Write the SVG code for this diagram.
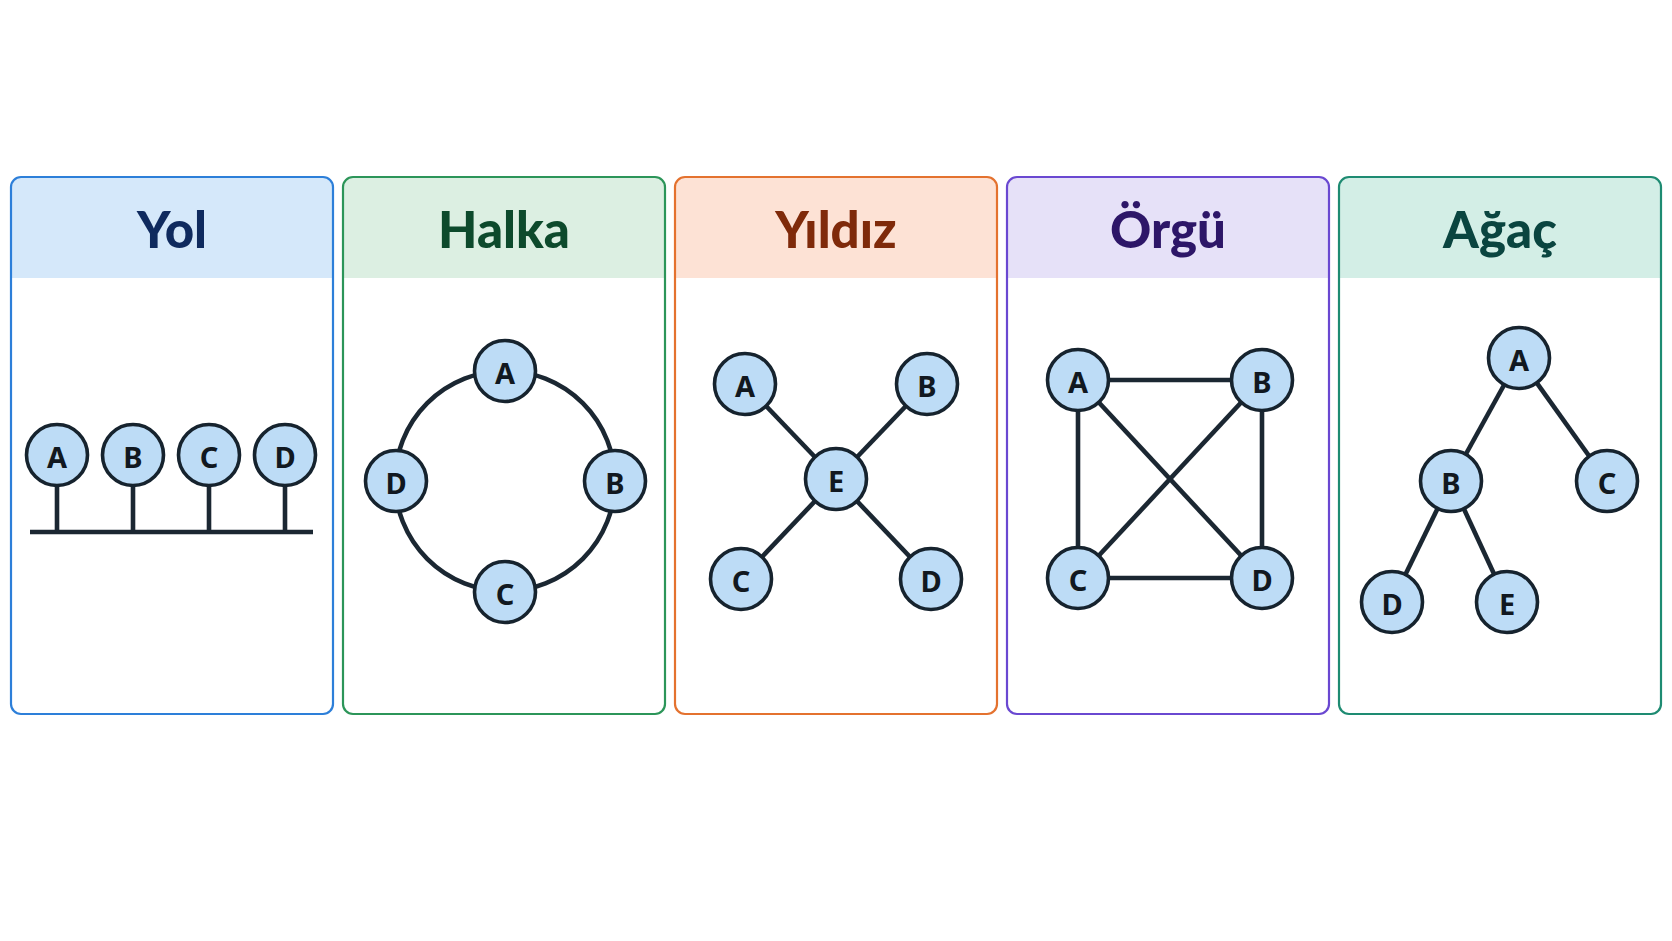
<svg xmlns="http://www.w3.org/2000/svg" width="1672" height="941" viewBox="0 0 1672 941">
<defs>
<style>
.card{fill:#ffffff}
.border{fill:none;stroke-width:2.2}
.title{font-family:Lato,"Noto Sans",sans-serif;font-weight:900;font-size:51px;text-anchor:middle}
.node circle{fill:#bddcf6;stroke:#16232e;stroke-width:3.6}
.node text{font-family:"Noto Sans","Liberation Sans",sans-serif;font-weight:700;font-size:29px;fill:#111820;text-anchor:middle;dominant-baseline:central}
.edge{stroke:#1b2732;stroke-width:4.6;fill:none;stroke-linecap:butt}
</style>
</defs>
<rect width="1672" height="941" fill="#ffffff"/>

<!-- Panels -->
<g id="panel-yol">
<rect class="card" x="11" y="177" width="322" height="537" rx="10"/>
<path d="M11 278 V187 A10 10 0 0 1 21 177 H323 A10 10 0 0 1 333 187 V278 Z" fill="#d5e8fa"/>
<rect class="border" x="11" y="177" width="322" height="537" rx="10" stroke="#2d7fd9"/>
<text class="title" x="172" y="248" fill="#0f2a5e">Yol</text>
</g>
<g id="panel-halka">
<rect class="card" x="343" y="177" width="322" height="537" rx="10"/>
<path d="M343 278 V187 A10 10 0 0 1 353 177 H655 A10 10 0 0 1 665 187 V278 Z" fill="#dcefe2"/>
<rect class="border" x="343" y="177" width="322" height="537" rx="10" stroke="#2c9559"/>
<text class="title" x="504" y="248" fill="#0d4a2c">Halka</text>
</g>
<g id="panel-yildiz">
<rect class="card" x="675" y="177" width="322" height="537" rx="10"/>
<path d="M675 278 V187 A10 10 0 0 1 685 177 H987 A10 10 0 0 1 997 187 V278 Z" fill="#fde2d5"/>
<rect class="border" x="675" y="177" width="322" height="537" rx="10" stroke="#e4722f"/>
<text class="title" x="836" y="248" fill="#7f2a0a">Yıldız</text>
</g>
<g id="panel-orgu">
<rect class="card" x="1007" y="177" width="322" height="537" rx="10"/>
<path d="M1007 278 V187 A10 10 0 0 1 1017 177 H1319 A10 10 0 0 1 1329 187 V278 Z" fill="#e6e1f8"/>
<rect class="border" x="1007" y="177" width="322" height="537" rx="10" stroke="#6a48d1"/>
<text class="title" x="1168" y="248" fill="#2d1668">Örgü</text>
</g>
<g id="panel-agac">
<rect class="card" x="1339" y="177" width="322" height="537" rx="10"/>
<path d="M1339 278 V187 A10 10 0 0 1 1349 177 H1651 A10 10 0 0 1 1661 187 V278 Z" fill="#d3eee6"/>
<rect class="border" x="1339" y="177" width="322" height="537" rx="10" stroke="#1e8b72"/>
<text class="title" x="1500" y="248" fill="#0a4540">Ağaç</text>
</g>

<!-- Connectors -->
<g id="connectors">
<!-- Yol -->
<line class="edge" x1="30" y1="532" x2="313" y2="532" stroke-linecap="round"/>
<line class="edge" x1="57" y1="455" x2="57" y2="532"/>
<line class="edge" x1="133" y1="455" x2="133" y2="532"/>
<line class="edge" x1="209" y1="455" x2="209" y2="532"/>
<line class="edge" x1="285" y1="455" x2="285" y2="532"/>
<!-- Halka -->
<circle class="edge" cx="505" cy="481" r="110"/>
<!-- Yildiz -->
<line class="edge" x1="745" y1="384" x2="836" y2="479"/>
<line class="edge" x1="927" y1="384" x2="836" y2="479"/>
<line class="edge" x1="741" y1="579" x2="836" y2="479"/>
<line class="edge" x1="931" y1="579" x2="836" y2="479"/>
<!-- Orgu -->
<line class="edge" x1="1078" y1="380" x2="1262" y2="380"/>
<line class="edge" x1="1078" y1="578" x2="1262" y2="578"/>
<line class="edge" x1="1078" y1="380" x2="1078" y2="578"/>
<line class="edge" x1="1262" y1="380" x2="1262" y2="578"/>
<line class="edge" x1="1078" y1="380" x2="1262" y2="578"/>
<line class="edge" x1="1262" y1="380" x2="1078" y2="578"/>
<!-- Agac -->
<line class="edge" x1="1519" y1="358" x2="1451" y2="481"/>
<line class="edge" x1="1519" y1="358" x2="1607" y2="481"/>
<line class="edge" x1="1451" y1="481" x2="1392" y2="602"/>
<line class="edge" x1="1451" y1="481" x2="1507" y2="602"/>
</g>

<!-- Nodes: Yol -->
<g id="yol-A" class="node"><circle cx="57" cy="455" r="30.5"/><text x="57" y="456">A</text></g>
<g id="yol-B" class="node"><circle cx="133" cy="455" r="30.5"/><text x="133" y="456">B</text></g>
<g id="yol-C" class="node"><circle cx="209" cy="455" r="30.5"/><text x="209" y="456">C</text></g>
<g id="yol-D" class="node"><circle cx="285" cy="455" r="30.5"/><text x="285" y="456">D</text></g>
<!-- Nodes: Halka -->
<g id="halka-A" class="node"><circle cx="505" cy="371" r="30.5"/><text x="505" y="372">A</text></g>
<g id="halka-B" class="node"><circle cx="615" cy="481" r="30.5"/><text x="615" y="482">B</text></g>
<g id="halka-C" class="node"><circle cx="505" cy="592" r="30.5"/><text x="505" y="593">C</text></g>
<g id="halka-D" class="node"><circle cx="396" cy="481" r="30.5"/><text x="396" y="482">D</text></g>
<!-- Nodes: Yildiz -->
<g id="yildiz-A" class="node"><circle cx="745" cy="384" r="30.5"/><text x="745" y="385">A</text></g>
<g id="yildiz-B" class="node"><circle cx="927" cy="384" r="30.5"/><text x="927" y="385">B</text></g>
<g id="yildiz-E" class="node"><circle cx="836" cy="479" r="30.5"/><text x="836" y="480">E</text></g>
<g id="yildiz-C" class="node"><circle cx="741" cy="579" r="30.5"/><text x="741" y="580">C</text></g>
<g id="yildiz-D" class="node"><circle cx="931" cy="579" r="30.5"/><text x="931" y="580">D</text></g>
<!-- Nodes: Orgu -->
<g id="orgu-A" class="node"><circle cx="1078" cy="380" r="30.5"/><text x="1078" y="381">A</text></g>
<g id="orgu-B" class="node"><circle cx="1262" cy="380" r="30.5"/><text x="1262" y="381">B</text></g>
<g id="orgu-C" class="node"><circle cx="1078" cy="578" r="30.5"/><text x="1078" y="579">C</text></g>
<g id="orgu-D" class="node"><circle cx="1262" cy="578" r="30.5"/><text x="1262" y="579">D</text></g>
<!-- Nodes: Agac -->
<g id="agac-A" class="node"><circle cx="1519" cy="358" r="30.5"/><text x="1519" y="359">A</text></g>
<g id="agac-B" class="node"><circle cx="1451" cy="481" r="30.5"/><text x="1451" y="482">B</text></g>
<g id="agac-C" class="node"><circle cx="1607" cy="481" r="30.5"/><text x="1607" y="482">C</text></g>
<g id="agac-D" class="node"><circle cx="1392" cy="602" r="30.5"/><text x="1392" y="603">D</text></g>
<g id="agac-E" class="node"><circle cx="1507" cy="602" r="30.5"/><text x="1507" y="603">E</text></g>
</svg>
